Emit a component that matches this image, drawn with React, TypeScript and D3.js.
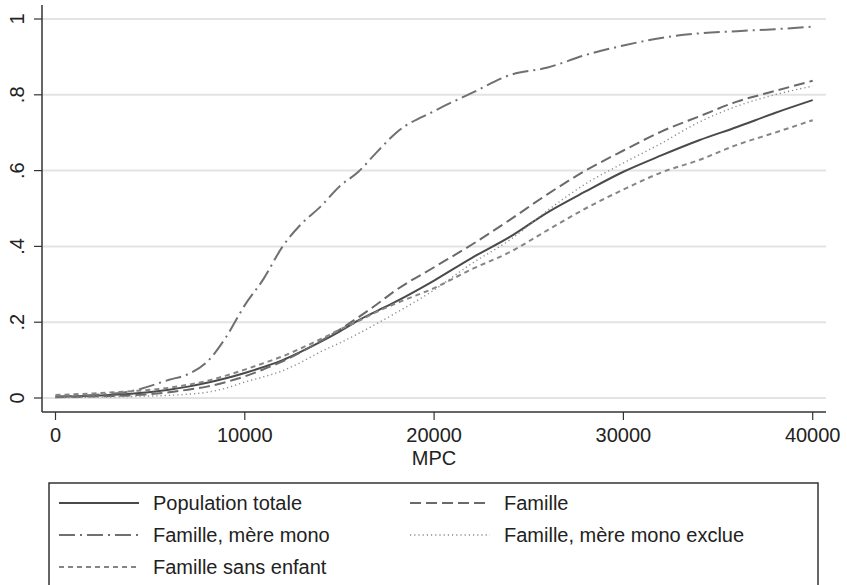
import React from "react";
import { scaleLinear, line, curveMonotoneX } from "d3";

// MPC values (x) shared by every series
const mpc = [
  0, 2000, 4000, 6000, 7000, 8000, 9000, 10000, 11000, 12000, 13000, 14000,
  15000, 16000, 17000, 18000, 20000, 22000, 24000, 26000, 28000, 30000,
  32000, 34000, 36000, 38000, 40000,
];

const populationTotale = [
  0.003, 0.006, 0.011, 0.022, 0.03, 0.04, 0.052, 0.066, 0.082, 0.1, 0.123,
  0.148, 0.175, 0.205, 0.23, 0.255, 0.31, 0.37, 0.425, 0.49, 0.545, 0.597,
  0.64, 0.68, 0.715, 0.752, 0.786,
];
const famille = [
  0.002, 0.004, 0.007, 0.015, 0.022, 0.03, 0.042, 0.057, 0.076, 0.097, 0.122,
  0.15, 0.18, 0.213, 0.248, 0.285, 0.345, 0.405, 0.47, 0.538, 0.6, 0.653,
  0.703, 0.743, 0.782, 0.81, 0.837,
];
const mereMono = [
  0.004, 0.008, 0.018, 0.048, 0.063, 0.095, 0.16, 0.245, 0.315, 0.4, 0.46,
  0.505, 0.558, 0.597, 0.65, 0.7, 0.757, 0.805, 0.852, 0.872, 0.905, 0.93,
  0.95, 0.962, 0.968, 0.973, 0.98,
];
const mereMonoExclue = [
  0.001, 0.002, 0.004, 0.007, 0.01, 0.015, 0.026, 0.042, 0.056, 0.072, 0.095,
  0.122, 0.145, 0.17, 0.197, 0.225, 0.285, 0.355, 0.417, 0.495, 0.565, 0.62,
  0.672, 0.728, 0.77, 0.8, 0.823,
];
const sansEnfant = [
  0.008, 0.012, 0.018, 0.027, 0.035, 0.045, 0.059, 0.075, 0.092, 0.11, 0.132,
  0.155, 0.18, 0.203, 0.228, 0.25, 0.29, 0.34, 0.385, 0.443, 0.5, 0.55,
  0.595, 0.628, 0.668, 0.7, 0.733,
];

const xTicks = [0, 10000, 20000, 30000, 40000];
const yTicks = [0, 0.2, 0.4, 0.6, 0.8, 1];
const yTickLabels = ["0", ".2", ".4", ".6", ".8", "1"];

const series = [
  { name: "Population totale", values: populationTotale, color: "#4a4a4a", width: 2, dash: "" },
  { name: "Famille", values: famille, color: "#6a6a6a", width: 2, dash: "11 5" },
  { name: "Famille, mère mono", values: mereMono, color: "#707070", width: 2, dash: "16 5 2 5" },
  { name: "Famille, mère mono exclue", values: mereMonoExclue, color: "#8a8a8a", width: 1.4, dash: "1.2 3" },
  { name: "Famille sans enfant", values: sansEnfant, color: "#858585", width: 2, dash: "5 4" },
];

// legend order: two columns
const legendOrder = [
  "Population totale",
  "Famille",
  "Famille, mère mono",
  "Famille, mère mono exclue",
  "Famille sans enfant",
];

const W = 847;
const H = 585;
const font = "'Liberation Sans', Arial, Helvetica, sans-serif";

export default function App() {
  const x = scaleLinear().domain([0, 40000]).range([55.5, 812.7]);
  const y = scaleLinear().domain([0, 1]).range([398, 19]);

  const left = 42;
  const right = 826;
  const bottom = 412;

  const path = (vals: number[]) =>
    line<number>()
      .x((_, i) => x(mpc[i]))
      .y((d) => y(d))
      .curve(curveMonotoneX)(vals) || "";

  const legendX = [59, 410];
  const legendRowY = [503, 535, 567];

  return (
    <svg
      width={W}
      height={H}
      style={{ position: "absolute", left: 0, top: 0, background: "#fff" }}
      fontFamily={font}
    >
      <rect width={W} height={H} fill="#fff" />
      {/* grid */}
      {yTicks.map((t) => (
        <line key={t} x1={left} x2={right} y1={y(t)} y2={y(t)} stroke="#e3e3e3" strokeWidth={2} />
      ))}
      {/* series */}
      {series.map((s) => (
        <path
          key={s.name}
          d={path(s.values)}
          fill="none"
          stroke={s.color}
          strokeWidth={s.width}
          strokeDasharray={s.dash}
          strokeLinejoin="round"
        />
      ))}
      {/* y axis */}
      <line x1={left} x2={left} y1={5} y2={bottom} stroke="#333" strokeWidth={1.5} />
      {yTicks.map((t, i) => (
        <g key={t}>
          <line x1={34} x2={left} y1={y(t)} y2={y(t)} stroke="#333" strokeWidth={1.2} />
          <text
            x={24}
            y={y(t)}
            transform={`rotate(-90, 24, ${y(t)})`}
            textAnchor="middle"
            fontSize={20}
            fill="#222"
          >
            {yTickLabels[i]}
          </text>
        </g>
      ))}
      {/* x axis */}
      <line x1={left} x2={right} y1={bottom} y2={bottom} stroke="#333" strokeWidth={1.5} />
      {xTicks.map((t) => (
        <g key={t}>
          <line x1={x(t)} x2={x(t)} y1={bottom} y2={bottom + 8} stroke="#333" strokeWidth={1.2} />
          <text x={x(t)} y={442} textAnchor="middle" fontSize={20} fill="#222">
            {t}
          </text>
        </g>
      ))}
      <text x={434} y={465} textAnchor="middle" fontSize={20} fill="#222">
        MPC
      </text>
      {/* legend */}
      <rect x={49} y={483} width={769} height={120} fill="none" stroke="#333" strokeWidth={1.5} />
      {legendOrder.map((name, i) => {
        const s = series.find((d) => d.name === name)!;
        const col = i % 2;
        const row = Math.floor(i / 2);
        const lx = legendX[col];
        const ly = legendRowY[row];
        return (
          <g key={name}>
            <line
              x1={lx}
              x2={lx + 80}
              y1={ly}
              y2={ly}
              stroke={s.color}
              strokeWidth={s.width}
              strokeDasharray={s.dash}
            />
            <text x={lx + 94} y={ly + 7} fontSize={20} fill="#222">
              {name}
            </text>
          </g>
        );
      })}
    </svg>
  );
}
